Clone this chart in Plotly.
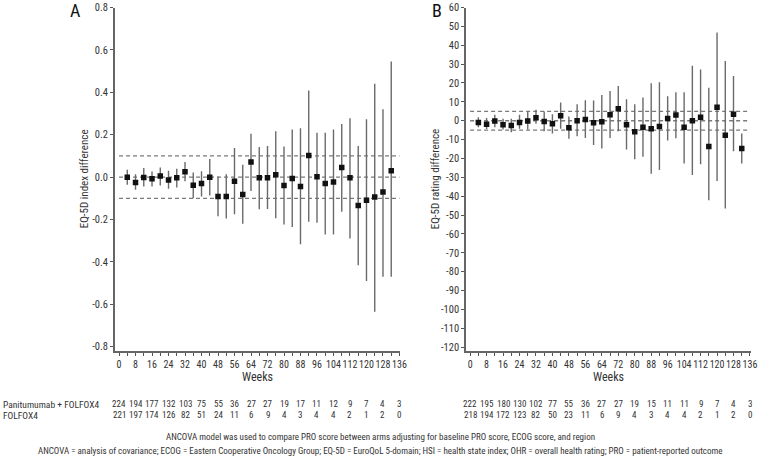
import plotly.graph_objects as go

# ---------------- data ----------------
weeks = [4, 8, 12, 16, 20, 24, 28, 32, 36, 40, 44, 48, 52, 56, 60, 64, 68,
         72, 76, 80, 84, 88, 92, 96, 100, 104, 108, 112, 116, 120, 124, 128, 132]

hsi_diff = [0.000, -0.025, -0.002, -0.008, 0.005, -0.013, -0.003, 0.025, -0.038, -0.030,
            0.000, -0.091, -0.091, -0.020, -0.082, 0.071, -0.003, -0.003, 0.011, -0.039,
            -0.006, -0.044, 0.102, 0.002, -0.030, -0.023, 0.045, -0.003, -0.134, -0.109,
            -0.094, -0.070, 0.030]
hsi_upper = [0.035, 0.014, 0.043, 0.027, 0.046, 0.030, 0.039, 0.071, 0.022, 0.028,
             0.085, 0.003, 0.014, 0.137, 0.058, 0.205, 0.142, 0.147, 0.216, 0.145,
             0.225, 0.231, 0.409, 0.209, 0.209, 0.225, 0.250, 0.278, 0.147, 0.273,
             0.440, 0.320, 0.545]
hsi_lower = [-0.036, -0.060, -0.044, -0.044, -0.039, -0.055, -0.049, -0.020, -0.100, -0.091,
             -0.087, -0.184, -0.195, -0.175, -0.220, -0.065, -0.151, -0.150, -0.194, -0.223,
             -0.235, -0.317, -0.210, -0.215, -0.270, -0.270, -0.163, -0.290, -0.415, -0.490,
             -0.635, -0.470, -0.470]

ohr_diff = [-0.9, -1.9, -0.2, -2.1, -2.5, -0.9, -0.2, 1.6, -0.4, -1.6,
            2.6, -3.7, 0.0, 0.7, -1.1, -0.5, 3.2, 6.3, -2.1, -5.8,
            -3.5, -4.2, -3.0, 1.2, 3.0, -3.5, 0.0, 1.9, -13.7, 7.2,
            -7.7, 3.5, -14.7]
ohr_upper = [1.9, 1.4, 3.2, 1.0, 1.0, 3.2, 4.7, 5.8, 4.9, 3.5,
             9.6, 2.3, 8.8, 10.9, 10.7, 13.7, 15.8, 18.4, 11.4, 8.8,
             12.3, 19.8, 20.4, 13.0, 15.1, 15.1, 29.1, 27.2, 17.5, 46.8,
             31.6, 23.7, -6.8]
ohr_lower = [-3.5, -4.4, -3.5, -4.7, -6.1, -4.2, -4.7, -1.6, -5.6, -6.7,
             -4.2, -9.6, -8.2, -9.1, -12.8, -14.7, -9.1, -5.6, -15.3, -20.4,
             -19.1, -28.1, -26.1, -10.5, -9.3, -22.6, -28.8, -23.0, -42.1, -31.9,
             -46.5, -16.1, -22.6]

table_weeks = [0, 8, 16, 24, 32, 40, 48, 56, 64, 72, 80, 88, 96, 104, 112, 120, 128, 136]
a_pmab = [224, 194, 177, 132, 103, 75, 55, 36, 27, 27, 19, 17, 11, 12, 9, 7, 4, 3]
a_folfox = [221, 197, 174, 126, 82, 51, 24, 11, 6, 9, 4, 3, 4, 4, 2, 1, 2, 0]
b_pmab = [222, 195, 180, 130, 102, 77, 55, 36, 27, 27, 19, 15, 11, 11, 9, 7, 4, 3]
b_folfox = [218, 194, 172, 123, 82, 50, 23, 11, 6, 9, 4, 3, 4, 4, 2, 1, 2, 0]
row_labels = ["Panitumumab + FOLFOX4", "FOLFOX4"]

a_refs = [0.1, 0.0, -0.1]
b_refs = [5, 0, -5]
a_ticks = [0.8, 0.6, 0.4, 0.2, 0.0, -0.2, -0.4, -0.6, -0.8]
a_ticklabels = ["0.8", "0.6", "0.4", "0.2", "0.0", "-0.2", "-0.4", "-0.6", "-0.8"]
b_ticks = list(range(60, -130, -10))

# ---------------- layout helpers ----------------
W, H = 760, 464
FONT = "Roboto Condensed, DejaVu Sans Condensed, Liberation Sans Narrow, Liberation Sans, sans-serif"
TXT = "#333333"
X_MAX = 136.4

def px_x(p):
    return p / W

def px_y(p):
    return 1 - p / H

y_dom = [px_y(351), px_y(7.5)]
xa_dom = [px_x(114.9), px_x(400.3)]
xb_dom = [px_x(466.0), px_x(750.8)]

fig = go.Figure()

def add_panel(xref, yref, diff, upper, lower, refs):
    eplus = [u - d for u, d in zip(upper, diff)]
    eminus = [d - l for d, l in zip(diff, lower)]
    for r in refs:
        fig.add_trace(go.Scatter(x=[0, 136], y=[r, r], mode="lines",
                                 line=dict(color="#7a7a7a", width=1.3, dash="4px,3px"),
                                 xaxis=xref, yaxis=yref, showlegend=False, hoverinfo="skip"))
    fig.add_trace(go.Scatter(
        x=weeks, y=diff, mode="markers",
        marker=dict(symbol="square", size=5.5, color="#111111"),
        error_y=dict(type="data", symmetric=False, array=eplus, arrayminus=eminus,
                     color="#6a6a6a", thickness=1.4, width=0),
        xaxis=xref, yaxis=yref, showlegend=False))

add_panel("x", "y", hsi_diff, hsi_upper, hsi_lower, a_refs)
add_panel("x2", "y2", ohr_diff, ohr_upper, ohr_lower, b_refs)

xaxis_common = dict(range=[-2, X_MAX], tickmode="array", tickvals=table_weeks,
                    ticktext=[str(w) for w in table_weeks], tickangle=0,
                    ticks="outside", ticklen=3, tickwidth=1, tickcolor="#555",
                    minor=dict(tickmode="array", tickvals=list(range(4, 136, 8)),
                               ticks="outside", ticklen=3, tickwidth=1, tickcolor="#555"),
                    showline=True, linecolor="#666", linewidth=1.6,
                    showgrid=False, zeroline=False, automargin=False,
                    ticklabeloverflow="allow",
                    tickfont=dict(family=FONT, size=10, color=TXT), fixedrange=True)
yaxis_common = dict(ticks="outside", ticklen=3, tickwidth=1, tickcolor="#555",
                    showline=True, linecolor="#666", linewidth=1.8,
                    showgrid=False, zeroline=False, automargin=False,
                    ticklabeloverflow="allow",
                    tickfont=dict(family=FONT, size=10.5, color=TXT), fixedrange=True)

fig.update_layout(
    width=W, height=H, margin=dict(l=0, r=0, t=0, b=0),
    paper_bgcolor="white", plot_bgcolor="white",
    xaxis=dict(domain=xa_dom, anchor="y", **xaxis_common),
    yaxis=dict(domain=y_dom, anchor="x", range=[-0.82, 0.8], tickmode="array",
               tickvals=a_ticks, ticktext=a_ticklabels, **yaxis_common),
    xaxis2=dict(domain=xb_dom, anchor="y2", **xaxis_common),
    yaxis2=dict(domain=y_dom, anchor="x2", range=[-122, 60], tickmode="array",
                tickvals=b_ticks, ticktext=[str(t) for t in b_ticks], **yaxis_common),
    showlegend=False,
)

ann = []
def text(x, y, s, size=10, xanchor="center", xref="paper", angle=0, color=TXT):
    ann.append(dict(x=x, y=y, xref=xref, yref="paper", text=s, showarrow=False,
                    xanchor=xanchor, yanchor="middle", textangle=angle,
                    font=dict(family=FONT, size=size, color=color)))

# Panel letters
text(px_x(75), px_y(11), "A", size=18, color="#111")
text(px_x(437), px_y(11), "B", size=18, color="#111")
# Y titles
text(px_x(84), sum(y_dom) / 2, "EQ-5D index difference", size=11, angle=-90)
text(px_x(435), sum(y_dom) / 2, "EQ-5D rating difference", size=11, angle=-90)
# X titles
text(sum(xa_dom) / 2, px_y(377), "Weeks", size=12)
text(sum(xb_dom) / 2, px_y(377), "Weeks", size=12)

# Number-at-risk tables
row_y = [px_y(404), px_y(415)]
text(px_x(0.5), row_y[0], row_labels[0], size=9.5, xanchor="left")
text(px_x(0.5), row_y[1], row_labels[1], size=9.5, xanchor="left")
for xr, r1, r2 in (("x", a_pmab, a_folfox), ("x2", b_pmab, b_folfox)):
    for wk, n1, n2 in zip(table_weeks, r1, r2):
        text(wk, row_y[0], str(n1), size=9, xref=xr)
        text(wk, row_y[1], str(n2), size=9, xref=xr)

# Footnotes
text(px_x(380), px_y(437), "ANCOVA model was used to compare PRO score between arms adjusting for baseline PRO score, ECOG score, and region", size=9)
text(px_x(380), px_y(451), "ANCOVA = analysis of covariance; ECOG = Eastern Cooperative Oncology Group; EQ-5D = EuroQoL 5-domain; HSI = health state index; OHR = overall health rating; PRO = patient-reported outcome", size=9)

fig.update_layout(annotations=ann)
# the page's default 8px body margin would push the 760x464 figure off the window
fig.write_html("out.html", config={"displayModeBar": False, "staticPlot": True},
               post_script="document.body.style.margin='0';")
